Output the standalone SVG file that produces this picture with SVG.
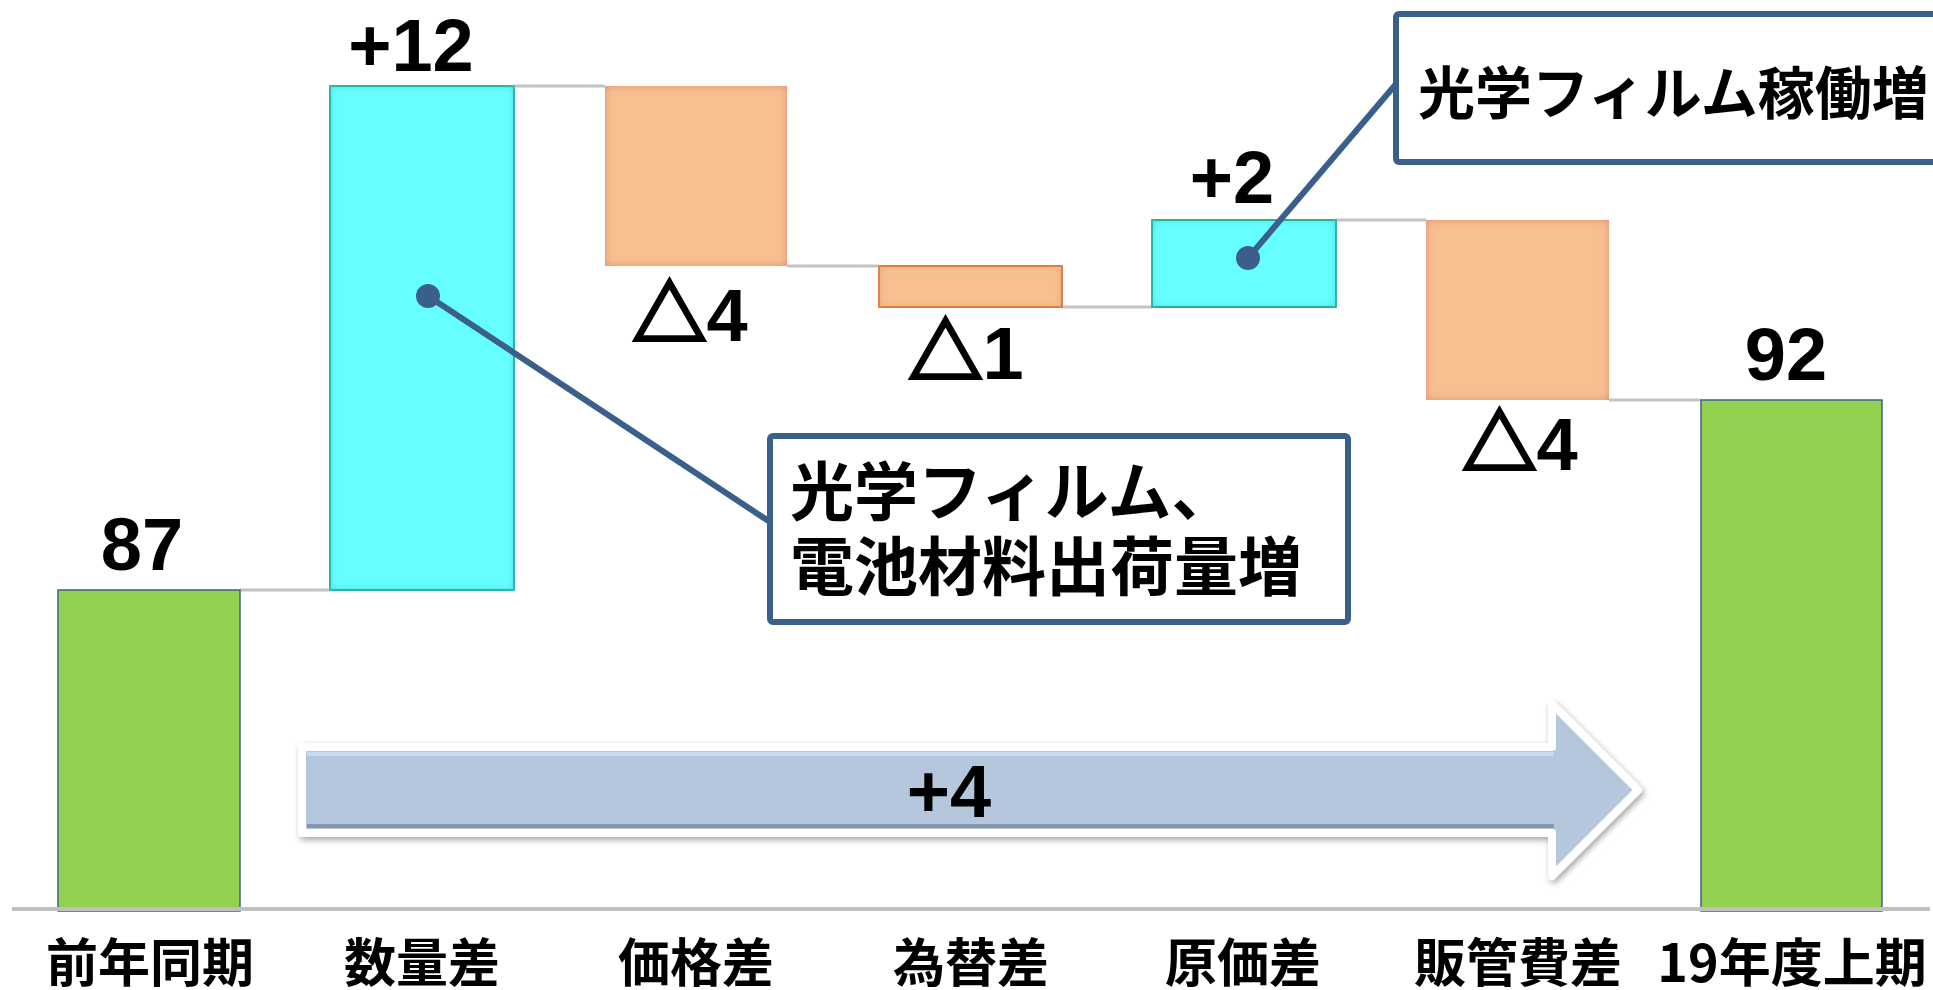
<svg xmlns="http://www.w3.org/2000/svg" width="1933" height="990" viewBox="0 0 1933 990">
<style>
.num{font-family:"Liberation Sans","Noto Sans CJK JP",sans-serif;font-weight:bold;font-size:74px;fill:#000;text-anchor:middle}
.tri{font-family:"Noto Sans CJK JP",sans-serif;font-weight:bold;stroke:#000;stroke-width:3.5;stroke-linejoin:miter}
.cat{font-family:"Noto Sans CJK JP","Liberation Sans",sans-serif;font-weight:bold;font-size:52px;fill:#000;text-anchor:middle}
.call{font-family:"Noto Sans CJK JP","Liberation Sans",sans-serif;font-weight:bold;fill:#000}
.conn{stroke:#c4c4c4;stroke-width:3;fill:none}
.lead{stroke:#3a5f8b;stroke-width:6;fill:none}
.box{fill:#fff;stroke:#3a5f8b;stroke-width:6}
.green{fill:#92d050;stroke:#3f5f86;stroke-width:1.5}
.cyan{fill:#66ffff;stroke:#00b050;stroke-width:2;filter:url(#glowC)}
.orange{fill:#f8c090;filter:url(#glowO)}
</style>
<defs>
<filter id="glowO" x="-5%" y="-5%" width="110%" height="110%">
<feFlood flood-color="#de8a72"/>
<feComposite in2="SourceAlpha" operator="out"/>
<feGaussianBlur stdDeviation="4"/>
<feComposite in2="SourceAlpha" operator="in" result="g"/>
<feMerge><feMergeNode in="SourceGraphic"/><feMergeNode in="g"/></feMerge>
</filter>
<filter id="glowC" x="-5%" y="-5%" width="110%" height="110%">
<feFlood flood-color="#44bfe0"/>
<feComposite in2="SourceAlpha" operator="out"/>
<feGaussianBlur stdDeviation="4"/>
<feComposite in2="SourceAlpha" operator="in" result="g"/>
<feMerge><feMergeNode in="SourceGraphic"/><feMergeNode in="g"/></feMerge>
</filter>
<filter id="shadow" x="-5%" y="-20%" width="110%" height="140%">
<feDropShadow dx="2" dy="3" stdDeviation="3" flood-color="#000" flood-opacity="0.35"/>
</filter>
</defs>
<rect width="1933" height="990" fill="#fff"/>

<g id="connectors">
<line class="conn" x1="240" y1="590" x2="330" y2="590"/>
<line class="conn" x1="514" y1="86" x2="605" y2="86"/>
<line class="conn" x1="787" y1="266" x2="879" y2="266"/>
<line class="conn" x1="1062" y1="307" x2="1152" y2="307"/>
<line class="conn" x1="1336" y1="220" x2="1426" y2="220"/>
<line class="conn" x1="1609" y1="400" x2="1701" y2="400"/>
</g>

<g id="bar-prev">
<rect class="green" x="58" y="590" width="182" height="321"/>
<text class="num" x="142" y="570">87</text>
</g>
<g id="bar-volume">
<rect class="cyan" x="330" y="86" width="184" height="504"/>
<text class="num" x="411" y="71">+12</text>
</g>
<g id="bar-price">
<rect class="orange" x="605" y="86" width="182" height="180"/>
<text class="num" x="690" y="341"><tspan class="tri">△</tspan>4</text>
</g>
<g id="bar-fx">
<rect class="orange" x="879" y="266" width="183" height="41" stroke="#e07a2e" stroke-width="2"/>
<text class="num" x="966" y="379"><tspan class="tri">△</tspan>1</text>
</g>
<g id="bar-cost">
<rect class="cyan" x="1152" y="220" width="184" height="87"/>
<text class="num" x="1232" y="203">+2</text>
</g>
<g id="bar-sga">
<rect class="orange" x="1426" y="220" width="183" height="180"/>
<text class="num" x="1520" y="470"><tspan class="tri">△</tspan>4</text>
</g>
<g id="bar-current">
<rect class="green" x="1701" y="400" width="181" height="511"/>
<text class="num" x="1786" y="380">92</text>
</g>

<line id="axis" x1="12" y1="909" x2="1930" y2="909" stroke="#bfbfbf" stroke-width="4"/>

<g id="arrow">
<path d="M302,747 H1552 V704 L1638,790 L1552,876 V833 H302 Z" fill="#b4c7dc" stroke="#fff" stroke-width="8" stroke-linejoin="round" filter="url(#shadow)"/>
<line x1="307" y1="754" x2="1554" y2="754" stroke="#c8daf2" stroke-width="4"/>
<line x1="307" y1="826" x2="1554" y2="826" stroke="#8595ac" stroke-width="4"/>
<text class="num" x="949" y="817">+4</text>
</g>

<g id="callout-volume">
<line class="lead" x1="428" y1="296" x2="770" y2="522"/>
<circle cx="428" cy="296" r="12" fill="#3a5f8b"/>
<rect class="box" x="770" y="436" width="578" height="186" rx="3"/>
<text class="call" font-size="64" x="790" y="515">光学フィルム、</text>
<text class="call" font-size="64" x="790" y="590">電池材料出荷量増</text>
</g>

<g id="callout-cost">
<line class="lead" x1="1248" y1="258" x2="1396" y2="84"/>
<circle cx="1248" cy="258" r="12" fill="#3a5f8b"/>
<rect class="box" x="1396" y="14" width="600" height="148" rx="3"/>
<text class="call" font-size="57" x="1418" y="114">光学フィルム稼働増</text>
</g>

<g id="categories">
<text class="cat" x="150" y="982">前年同期</text>
<text class="cat" x="422" y="982">数量差</text>
<text class="cat" x="696" y="982">価格差</text>
<text class="cat" x="971" y="982">為替差</text>
<text class="cat" x="1243" y="982">原価差</text>
<text class="cat" x="1518" y="982">販管費差</text>
<text class="cat" x="1792" y="982">19年度上期</text>
</g>
</svg>
